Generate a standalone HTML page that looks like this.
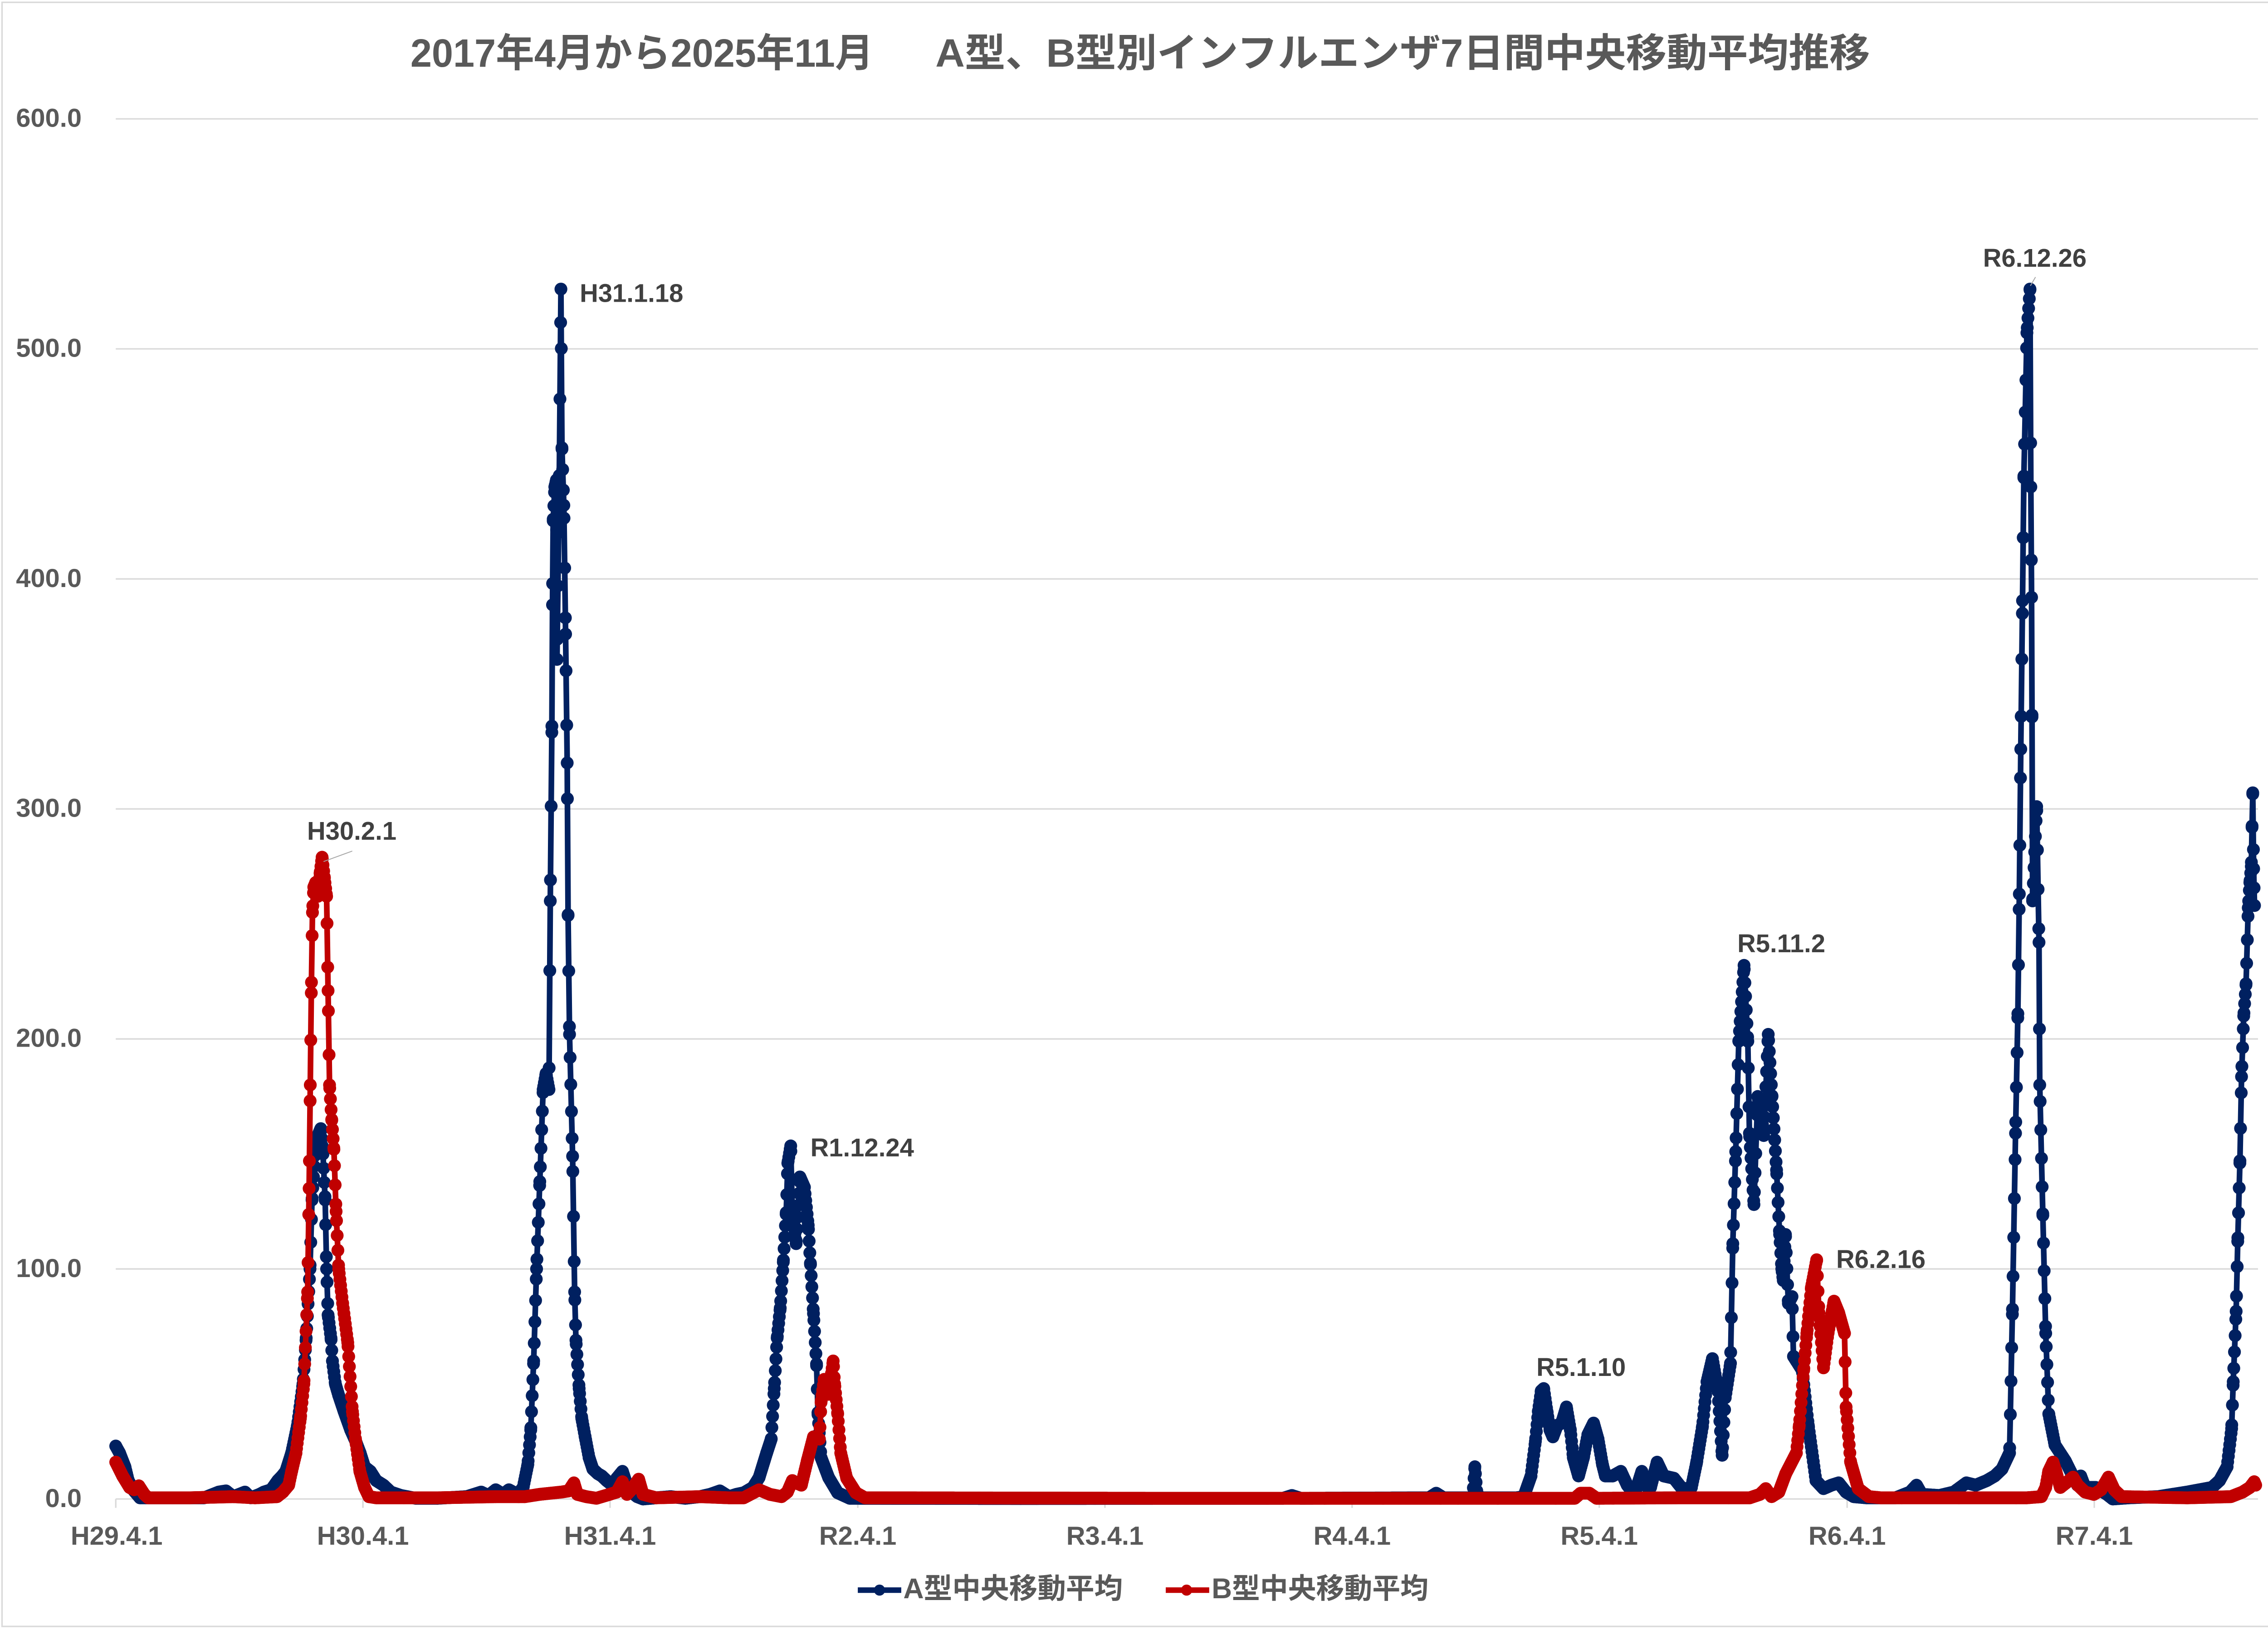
<!DOCTYPE html>
<html>
<head>
<meta charset="utf-8">
<style>
html,body{margin:0;padding:0;background:#fff;}
svg{display:block;}
</style>
</head>
<body>
<svg id="c" xmlns="http://www.w3.org/2000/svg" width="5041" height="3593" viewBox="0 0 1568.2 1117.75" preserveAspectRatio="none" font-family="'Liberation Sans','Noto Sans CJK JP',sans-serif" font-weight="bold">
<rect x="0" y="0" width="1568.2" height="1117.75" fill="#ffffff"/>
<rect x="1.4" y="1.6" width="1563.4" height="1113.7" fill="none" stroke="#d9d9d9" stroke-width="1"/>

<!-- Title -->
<text x="281.5" y="45.7" font-size="27" fill="#595959" textLength="317.5" lengthAdjust="spacingAndGlyphs">2017年4月から2025年11月</text>
<text x="641.5" y="45.7" font-size="27" fill="#595959" textLength="641" lengthAdjust="spacingAndGlyphs">A型、B型別インフルエンザ7日間中央移動平均推移</text>

<!-- Gridlines -->
<g stroke="#d9d9d9" stroke-width="1">
<line x1="79.4" y1="81.52" x2="1548.6" y2="81.52"/>
<line x1="79.4" y1="239.25" x2="1548.6" y2="239.25"/>
<line x1="79.4" y1="396.98" x2="1548.6" y2="396.98"/>
<line x1="79.4" y1="554.71" x2="1548.6" y2="554.71"/>
<line x1="79.4" y1="712.44" x2="1548.6" y2="712.44"/>
<line x1="79.4" y1="870.17" x2="1548.6" y2="870.17"/>
<line x1="79.4" y1="1027.9" x2="1548.6" y2="1027.9"/>
<!-- ticks -->
<line x1="79.4" y1="1027.9" x2="79.4" y2="1034"/>
<line x1="248.9" y1="1027.9" x2="248.9" y2="1034"/>
<line x1="418.4" y1="1027.9" x2="418.4" y2="1034"/>
<line x1="588.3" y1="1027.9" x2="588.3" y2="1034"/>
<line x1="757.8" y1="1027.9" x2="757.8" y2="1034"/>
<line x1="927.3" y1="1027.9" x2="927.3" y2="1034"/>
<line x1="1096.8" y1="1027.9" x2="1096.8" y2="1034"/>
<line x1="1266.8" y1="1027.9" x2="1266.8" y2="1034"/>
<line x1="1436.3" y1="1027.9" x2="1436.3" y2="1034"/>
</g>

<!-- Y labels -->
<g font-size="18" fill="#595959" text-anchor="end">
<text x="56" y="87.0">600.0</text>
<text x="56" y="244.75">500.0</text>
<text x="56" y="402.5">400.0</text>
<text x="56" y="560.2">300.0</text>
<text x="56" y="717.9">200.0</text>
<text x="56" y="875.7">100.0</text>
<text x="56" y="1033.4">0.0</text>
</g>

<!-- X labels -->
<g font-size="18" fill="#595959" text-anchor="middle">
<text x="80" y="1059.3">H29.4.1</text>
<text x="248.9" y="1059.3">H30.4.1</text>
<text x="418.4" y="1059.3">H31.4.1</text>
<text x="588.3" y="1059.3">R2.4.1</text>
<text x="757.8" y="1059.3">R3.4.1</text>
<text x="927.3" y="1059.3">R4.4.1</text>
<text x="1096.8" y="1059.3">R5.4.1</text>
<text x="1266.8" y="1059.3">R6.4.1</text>
<text x="1436.3" y="1059.3">R7.4.1</text>
</g>

<!-- Series A (blue) -->
<polyline id="sa" fill="none" stroke="#002060" stroke-width="26" vector-effect="non-scaling-stroke" stroke-linejoin="round" stroke-linecap="round" transform="matrix(1 0 0 -1.5773 0 1027.9)" points="79.4,23 82,20 85.7,14 88,8 92,3.5 96,0.5 100,0.5 140,0.5 150,3 155,3.5 160,1 168,3 172,0.5 178,2 181,3 186,4 190.5,8 193.5,10 196,12 200,20 204,32 207.8,50 210,70 212.6,100 214,130 216,150 218,158 220,161 221.5,150 223,130 224,100 225,80 227,70 228,60 230,50 232.3,45 236,38 240.5,30 244,25 247,20 250,14 254,12 258,8 263,6 268,3 275,1.5 285,0.3 300,0.3 320,1 330,3 335,1.5 340,4 345,2 349,4 355,2 358.8,5 362,15 364,30 366,60 368,100 370.2,138 372.5,178 374.5,185 376.5,178 377.4,260 378.5,336 379,398 379.4,426 380.5,440 381.6,443 382,365 383.5,440 384.7,526 385.4,457 386.7,432 387.9,376 389,320 389.6,254 390.6,202 392.7,149 394.1,90 395,69 397.2,48 399,35 401.3,27 404,18 406.6,13 410,11 412.7,10 416,8 420,6 423,9 426.9,12 430,6 433,3 437,1 441,0 450,0.5 460,1 470,0.3 480,1 487,2 493.7,3.5 500,1 505,2 510.2,2.7 516.4,5 520.6,9.3 525.8,20 528.9,26 531,48 533,70 535.1,83 537.2,103 539.2,124.5 540.3,146 542.3,153.5 543.4,124.5 546,111 548.6,140 551.7,135.5 554.3,119 555.8,102.5 557.9,80.6 560,58.7 561,36.7 563.1,18 568.3,9.3 574.5,2.7 582.8,0.3 700,0.2 880,0.3 886,1.5 892,0.3 980,0.5 985,2.5 990,0.5 1010,0.5 1011.5,14 1013,2 1016,0.5 1040,0.5 1045,1 1050,10 1053,25 1055,38 1057,47 1058.7,48 1061,38 1063,30 1065,27 1068,32 1071,33 1074.3,40 1077,30 1079,18 1082.6,10 1086,18 1089,28 1092.9,33 1096,26 1099,15 1101,10 1106,10 1111.6,12 1116,6 1121,2 1126,12 1130,5 1132,5 1136.5,16 1141,10 1148,9 1153,5 1158,4 1160,5 1163.5,15.6 1167.6,31.6 1170.7,51 1174.4,61 1178,48 1181.1,19 1183.2,44 1186.8,59 1188.4,111 1190.4,151 1192.5,199 1196.1,232 1198.7,199 1199.8,159 1202.9,128 1205.5,175 1207.5,170 1209.6,158 1212.7,202 1215.3,175 1218.4,143 1220.5,115 1222,100 1223,95 1224.5,115 1226.5,85 1229,88 1230,62 1232,60 1236,56 1240.2,32 1245.4,8 1250.6,4.5 1256,6 1261,7 1266,3 1271.3,1 1280,0.5 1300,0.5 1310,3 1314.4,6 1318,2 1330,1.5 1340,3 1348.6,7 1355,6 1362.6,8 1368,10 1373,13 1378.2,20 1380.2,82.5 1382.3,159 1383.9,211 1384.9,263 1385.9,326 1387,385 1388,444 1390.1,507 1392.2,526 1392.8,440 1393.3,392 1393.6,340 1394,260 1396.8,301 1398.4,242 1398.9,180 1401,124 1403,72 1405.1,37 1409.3,23.5 1416.5,16.5 1420,12 1424.8,6 1427,10 1430,5 1437.3,5 1445,2 1449,0 1460,0.5 1480,1 1500,3 1517,5 1522.2,8 1527.4,14 1530.5,30.6 1531.6,51 1533.6,81.6 1534.7,112 1536.2,147 1537.3,183.6 1538.8,210 1540.4,224 1541.9,257 1543,268 1544,275 1544.5,292 1545,307 1545.6,274 1546.2,258"/>

<!-- Series B (red) -->
<polyline id="sb" fill="none" stroke="#C00000" stroke-width="26" vector-effect="non-scaling-stroke" stroke-linejoin="round" stroke-linecap="round" transform="matrix(1 0 0 -1.5773 0 1027.9)" points="79.4,16 84.1,10 88.9,5 92,4 95.2,5.7 99,2 101.6,0.5 130,0.5 160,1 175,0.5 190,1 194,3 198,6 200,12 203,20 206,35 208.4,50 211,90 212,135 212.8,180 213.5,220 214.3,255 215.2,266 216.5,268 218,262 219.5,272 220.9,279 222.5,270 224,262 225,221 226,180 227.5,165 229,152 230.5,125 232.3,100 235,85 238.5,68 241.7,38 244,25 246.8,12 250,5 253,1 258,0.5 300,0.5 340,1 360,1 370,2 385,3 390,3.5 393.6,7 396,2 402,1 409,0.3 418,2 423,3 426.9,7.5 430,2 433,4 438,8.6 441,2 450,0.5 480,1 500,0.5 510,0.5 520.6,4 528,2 536,1 540,3 543.4,8 546,7 549.6,6 553.8,17 557.9,27 562,26 563.1,42 565.2,52 568.3,45.5 571.4,60 572.4,50 574.5,37 576.6,20 580.7,9 587,2.7 593.2,0.5 800,0.3 1000,0.3 1080,0.3 1084,2.5 1090,2.5 1095,0.3 1150,0.5 1200,0.5 1207,2 1211,4.5 1215,1 1220,3 1224.7,11 1232,20 1234,32 1237,56 1239.2,72 1242.3,92 1245.9,104 1247.5,81 1250.6,57 1253.7,72 1257.8,86 1261,81 1265,72 1266.1,40 1269.2,16 1274.4,4.5 1281.7,1 1290,0.5 1390,0.5 1400,1 1403,5 1405,12 1408,16 1410,12 1413,5 1417,7 1421.7,9.5 1425,6 1430,3 1436,2 1441,4 1446,9.5 1450,4 1455,1 1500,0.5 1530,1 1538,3 1543,5 1546,7.5 1547,6"/>

<!-- Annotations -->
<g stroke="#a6a6a6" stroke-width="0.6">
<line x1="241.6" y1="583.6" x2="221.9" y2="590.8"/>
<line x1="1396" y1="190" x2="1392.5" y2="196"/>
</g>
<g font-size="17.5" fill="#404040">
<text x="210.6" y="575.8">H30.2.1</text>
<text x="397.6" y="207">H31.1.18</text>
<text x="555.8" y="793">R1.12.24</text>
<text x="1053.7" y="943.5">R5.1.10</text>
<text x="1191.5" y="653">R5.11.2</text>
<text x="1259.3" y="869.5">R6.2.16</text>
<text x="1360" y="183">R6.12.26</text>
</g>

<!-- Legend -->
<line x1="588.3" y1="1090.4" x2="618.1" y2="1090.4" stroke="#002060" stroke-width="3.8"/>
<circle cx="603.2" cy="1090.4" r="3.8" fill="#002060"/>
<text x="619.5" y="1096" font-size="19.5" fill="#595959" textLength="150.5" lengthAdjust="spacingAndGlyphs">A型中央移動平均</text>
<line x1="799.5" y1="1090.4" x2="829.3" y2="1090.4" stroke="#C00000" stroke-width="3.8"/>
<circle cx="813.8" cy="1090.4" r="3.8" fill="#C00000"/>
<text x="831" y="1096" font-size="19.5" fill="#595959" textLength="148.6" lengthAdjust="spacingAndGlyphs">B型中央移動平均</text>
</svg>

<script>
(function(){
  var NS='http://www.w3.org/2000/svg';
  function Y(v){return 1027.9-1.5773*v;}
  function draw(id,color){
    var pl=document.getElementById(id);
    if(!pl)return;
    var a=pl.getAttribute('points').trim().split(/[\s,]+/).map(Number);
    var xs=[],vs=[],i;
    for(i=0;i+1<a.length;i+=2){xs.push(a[i]);vs.push(a[i+1]);}
    var g=document.createElementNS(NS,'g');
    var d='';
    for(i=0;i<xs.length;i++){d+=(i?'L':'M')+xs[i].toFixed(2)+' '+Y(vs[i]).toFixed(2);}
    var p=document.createElementNS(NS,'path');
    p.setAttribute('d',d);
    p.setAttribute('fill','none');
    p.setAttribute('stroke',color);
    p.setAttribute('stroke-width','3.9');
    p.setAttribute('stroke-linejoin','round');
    p.setAttribute('stroke-linecap','round');
    g.appendChild(p);
    var dots=document.createElementNS(NS,'g');
    dots.setAttribute('fill',color);
    function dot(x,y){
      var c=document.createElementNS(NS,'circle');
      c.setAttribute('cx',x.toFixed(2));
      c.setAttribute('cy',y.toFixed(2));
      c.setAttribute('r','4.4');
      dots.appendChild(c);
    }
    var j=0,n=xs.length;
    for(var k=0;k<=3170;k++){
      var x=79.4+k*0.46438;
      if(x<xs[0]||x>xs[n-1])continue;
      while(j<n-2&&xs[j+1]<x)j++;
      var t=(x-xs[j])/(xs[j+1]-xs[j]);
      var v=vs[j]+(vs[j+1]-vs[j])*t;
      dot(x,Y(v));
    }
    for(i=0;i<n;i++){dot(xs[i],Y(vs[i]));}
    g.appendChild(dots);
    pl.parentNode.replaceChild(g,pl);
  }
  draw('sa','#002060');
  draw('sb','#C00000');
})();
</script>
</body>
</html>
